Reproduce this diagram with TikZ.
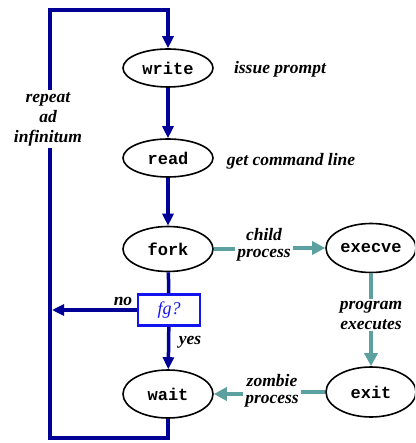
\documentclass[tikz,border=0pt]{standalone}
\usepackage{fontspec}
\setmainfont{Liberation Serif}
\setmonofont{Liberation Mono}
\usetikzlibrary{arrows.meta,shapes.geometric}
\definecolor{navy}{RGB}{0,0,150}
\definecolor{tealc}{RGB}{92,160,160}
\definecolor{boxblue}{RGB}{20,20,240}
\begin{document}
\begin{tikzpicture}[x=1pt,y=-1pt,
  proc/.style={ellipse,draw=black,line width=1.6pt,minimum width=90pt,inner sep=0pt,
    font=\ttfamily\bfseries\fontsize{17}{17}\selectfont},
  lbl/.style={font=\bfseries\itshape\fontsize{17.5}{17}\selectfont,align=center,inner sep=2pt},
  bline/.style={draw=navy,line width=3.5pt},
  barrow/.style={bline,-{Triangle[length=12pt,width=11pt]}},
  tline/.style={draw=tealc,line width=4pt},
  tarrow/.style={tline,-{Triangle[length=13pt,width=13pt]}}]
\useasboundingbox (0,0) rectangle (415,443);
\clip (0,0) rectangle (415,443);

\node[proc,minimum height=38pt] (write) at (168,68) {write};
\node[proc,minimum height=38pt] (read) at (168,158) {read};
\node[proc,minimum height=45pt] (fork) at (168,249) {fork};
\node[draw=boxblue,line width=2.5pt,minimum width=62pt,minimum height=31pt,inner sep=0pt,
  text=boxblue,font=\itshape\fontsize{18}{17}\selectfont] (fg) at (169,310) {fg?};
\node[proc,minimum height=48pt] (wait) at (168,394) {wait};
\node[proc,minimum height=49pt] (execve) at (371,248) {execve};
\node[proc,minimum height=50pt] (exit) at (371,392) {exit};

\node[lbl] (issue) at (280,69) {issue prompt};
\node[lbl] (getcmd) at (291,161) {get command line};
\node[lbl,font=\bfseries\itshape\fontsize{17.5}{20}\selectfont] (rep) at (48,119) {repeat\\ad\\infinitum};
\node[lbl,font=\bfseries\itshape\fontsize{17.5}{16.5}\selectfont] (child) at (264,245) {child\\process};
\node[lbl,font=\bfseries\itshape\fontsize{17.5}{20}\selectfont] (prog) at (371,315) {program\\executes};
\node[lbl,font=\bfseries\itshape\fontsize{17.5}{16.5}\selectfont] (zomb) at (272,391) {zombie\\process};
\node[lbl] (no) at (123,301) {no};
\node[lbl] (yes) at (190,342) {yes};

\coordinate (bl) at (50,438);
\coordinate (tl) at (50,10);
\coordinate (noend) at (52,310);

\draw[bline] (wait.south) |- (bl) -- (bl |- rep.south);
\draw[barrow] (bl |- rep.north) -- (tl) -| (write.north);
\draw[barrow] (write) -- (read);
\draw[barrow] (read) -- (fork);
\draw[bline] (fork) -- (fg);
\draw[barrow] (fg) -- (wait);
\draw[barrow] (fg.west) -- (noend);

\draw[tline] (fork.east) -- (fork.east -| child.west);
\draw[tarrow] (child.east |- execve.west) -- (execve.west);
\draw[tline] (execve.south) -- (prog.north);
\draw[tarrow] (prog.south) -- (exit.north);
\draw[tline] (exit.west) -- (exit.west -| zomb.east);
\draw[tarrow] (zomb.west |- wait.east) -- (wait.east);
\end{tikzpicture}
\end{document}
